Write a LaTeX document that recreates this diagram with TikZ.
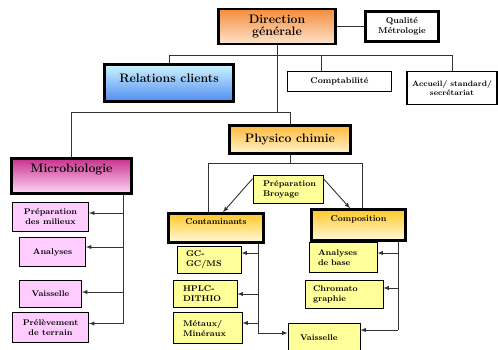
\documentclass[tikz,border=0pt]{standalone}
\usepackage{fontspec}
\usepackage{tikz}
\definecolor{dirtop}{RGB}{245,140,60}
\definecolor{dirbot}{RGB}{253,228,205}
\definecolor{reltop}{RGB}{205,245,255}
\definecolor{relbot}{RGB}{80,140,240}
\definecolor{mictop}{RGB}{200,50,140}
\definecolor{micbot}{RGB}{255,215,250}
\definecolor{phytop}{RGB}{255,185,60}
\definecolor{phybot}{RGB}{255,245,205}
\definecolor{labtop}{RGB}{255,200,40}
\definecolor{labbot}{RGB}{255,250,220}
\definecolor{pinkfill}{RGB}{255,204,255}
\definecolor{yellowfill}{RGB}{255,255,153}

\begin{document}
\begin{tikzpicture}[x=1pt,y=-1pt,
    bigbox/.style={draw, line width=2.5pt, align=center, inner sep=0pt, font=\bfseries\fontsize{12.3}{12.5}\selectfont},
    midbox/.style={draw, line width=2.5pt, align=center, inner sep=0pt, font=\bfseries\fontsize{8.5}{9}\selectfont},
    leafbox/.style={draw, line width=0.8pt, align=center, inner sep=0pt, font=\bfseries\fontsize{8.3}{10}\selectfont},
    pinkleaf/.style={leafbox, fill=pinkfill},
    yellowleaf/.style={leafbox, fill=yellowfill, align=left, inner xsep=9pt},
    link/.style={line width=0.9pt, draw=black!80},
    ptr/.style={link, -latex}]
    \useasboundingbox (0,0) rectangle (498,349);
    % top level
    \node[bigbox, top color=dirtop, bottom color=dirbot, minimum width=117pt, minimum height=35pt] (dir) at (277,26.5) {Direction\\générale};
    \node[midbox, fill=white, font=\bfseries\fontsize{8.5}{9.5}\selectfont, minimum width=73pt, minimum height=30pt] (qual) at (402,26.5) {Qualité\\Métrologie};
    \node[bigbox, top color=reltop, bottom color=relbot, text depth=10pt, minimum width=129pt, minimum height=37pt] (rel) at (169,83) {Relations clients};
    \node[leafbox, line width=1.3pt, fill=white, minimum width=104pt, minimum height=20pt] (compta) at (339.5,81.5) {Comptabilité};
    \node[leafbox, line width=1.3pt, fill=white, font=\bfseries\fontsize{7.8}{8.5}\selectfont, minimum width=90pt, minimum height=33pt] (acc) at (452,88) {Accueil/ standard/\\secrétariat};
    % departments
    \node[bigbox, top color=phytop, bottom color=phybot, minimum width=121pt, minimum height=28pt] (phys) at (290,139.5) {Physico chimie};
    \node[bigbox, top color=mictop, bottom color=micbot, text depth=16pt, minimum width=120pt, minimum height=35pt] (micro) at (71.5,176) {Microbiologie};
    \node[yellowleaf, text width=50pt, inner xsep=10pt, minimum height=28pt] (prep) at (288,189) {Préparation\\Broyage};
    \node[midbox, top color=labtop, bottom color=labbot, text depth=12pt, minimum width=95pt, minimum height=29pt] (conta) at (216,228) {Contaminants};
    \node[midbox, top color=labtop, bottom color=labbot, text depth=13pt, minimum width=94pt, minimum height=31pt] (compo) at (358.5,225) {Composition};
    % microbiologie
    \node[pinkleaf, minimum width=76pt, minimum height=29pt] (pm) at (50.5,217) {Préparation\\des milieux};
    \node[pinkleaf, minimum width=66pt, minimum height=29pt] (ana) at (52.5,252) {Analyses};
    \node[pinkleaf, minimum width=62pt, minimum height=27pt] (vais1) at (50.5,294) {Vaisselle};
    \node[pinkleaf, minimum width=76pt, minimum height=30pt] (prel) at (50.5,327.5) {Prélèvement\\de terrain};
    % contaminants
    \node[yellowleaf, text width=46pt, minimum height=27pt] (gc) at (209,260) {GC-\\GC/MS};
    \node[yellowleaf, text width=44pt, inner xsep=10pt, minimum height=27pt] (hplc) at (205,294) {HPLC-\\DITHIO};
    \node[yellowleaf, text width=49pt, inner xsep=10pt, minimum height=31pt] (met) at (207.5,328) {Métaux/\\Minéraux};
    % composition
    \node[yellowleaf, text width=50pt, minimum height=30pt] (anab) at (343,257.5) {Analyses\\de base};
    \node[yellowleaf, text width=62pt, inner xsep=8pt, minimum height=28pt] (chro) at (344,294.5) {Chromato\\graphie};
    \node[yellowleaf, text width=48pt, inner xsep=12pt, minimum height=30pt] (vais2) at (324,338) {Vaisselle};
    % connectors
    \coordinate (topbus) at (0,55);
    \coordinate (midbus) at (0,112);
    \coordinate (phybus) at (0,163);
    \coordinate (mcol) at (123,0);
    \coordinate (ccol) at (258,0);
    \coordinate (kcol) at (398,0);
    \draw[link] (dir.east) -- (qual.west);
    \draw[link] (dir.south) -- (dir.south |- midbus);
    \draw[link] (rel.north) -- (rel.north |- topbus) -- (acc.north |- topbus) -- (acc.north);
    \draw[link] ([xshift=-18pt]compta.north) -- ([xshift=-18pt]compta.north |- topbus);
    \draw[link] (micro.north) -- (micro.north |- midbus) -- (phys.north |- midbus) -- (phys.north);
    \draw[link] (phys.south) -- (phys.south |- phybus);
    \draw[link] ([xshift=-8pt]conta.north) -- ([xshift=-8pt]conta.north |- phybus) -- ([xshift=3.5pt]compo.north |- phybus) -- ([xshift=3.5pt]compo.north);
    \draw[ptr] ([yshift=-4pt]prep.north west) -- ([xshift=7pt]conta.north);
    \draw[ptr] ([yshift=-4pt]prep.north east) -- ([xshift=-8.5pt]compo.north);
    % microbiologie column
    \draw[link] (micro.south -| mcol) -- ([yshift=4pt]prel.east -| mcol);
    \foreach \n/\s in {pm/4, ana/5, vais1/2, prel/4}
        \draw[ptr] ([yshift=\s pt]\n.east -| mcol) -- ([yshift=\s pt]\n.east);
    % contaminants column
    \draw[link] (conta.south -| ccol) -- ([yshift=5pt]vais2.west -| ccol);
    \draw[ptr] ([yshift=5pt]vais2.west -| ccol) -- ([yshift=5pt]vais2.west);
    \foreach \n/\s in {gc/7, hplc/0, met/5}
        \draw[ptr] ([yshift=\s pt]\n.east -| ccol) -- ([yshift=\s pt]\n.east);
    % composition column
    \draw[link] (compo.south -| kcol) -- ([yshift=8pt]vais2.east -| kcol);
    \foreach \n/\s in {anab/4.5, chro/6.5, vais2/8}
        \draw[ptr] ([yshift=\s pt]\n.east -| kcol) -- ([yshift=\s pt]\n.east);
\end{tikzpicture}
\end{document}
